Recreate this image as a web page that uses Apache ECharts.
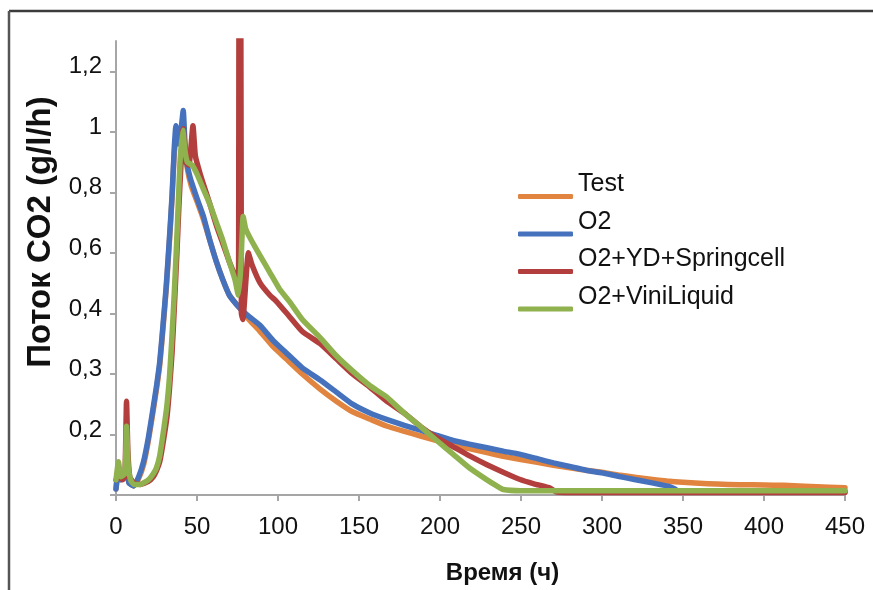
<!DOCTYPE html>
<html>
<head>
<meta charset="utf-8">
<script src="https://cdn.jsdelivr.net/npm/echarts@6/dist/echarts.min.js"></script>
<style>html,body{margin:0;padding:0;background:#fff}#c{width:873px;height:590px}</style>
</head>
<body>
<div id="c"></div>
<script>
// y values are in axis position units (one tick = 0.2); the printed tick labels are below
const yTickLabels = ['', '0,2', '0,3', '0,4', '0,6', '0,8', '1', '1,2'];
const seriesNames = ['Test', 'O2', 'O2+YD+Springcell', 'O2+ViniLiquid'];

const testData = [[0,0.02],[1.5,0.08],[3,0.05],[5,0.06],[6.5,0.08],[8,0.04],[11,0.03],[14,0.055],[17,0.1],[20,0.18],[23,0.28],[25,0.35],[27,0.43],[29,0.55],[31,0.68],[33,0.84],[34.6,0.98],[36,1.13],[37.5,1.18],[40,1.18],[42,1.18],[44,1.08],[46.5,1.02],[50,0.97],[54,0.91],[58,0.84],[62,0.77],[66,0.71],[70,0.66],[76,0.62],[82,0.58],[89,0.54],[97,0.49],[105,0.45],[115,0.4],[126,0.35],[136,0.31],[146,0.275],[157,0.25],[167,0.228],[178,0.21],[188,0.195],[198,0.18],[208,0.166],[218,0.153],[229,0.14],[239,0.128],[249,0.118],[260,0.108],[270,0.098],[280,0.09],[290,0.082],[300,0.075],[310,0.066],[320,0.059],[330,0.052],[340,0.046],[350,0.042],[360,0.039],[371,0.036],[385,0.034],[400,0.033],[412,0.032],[425,0.029],[440,0.026],[450,0.024]];

const o2Data = [[0,0.02],[1.5,0.09],[3,0.05],[5,0.06],[6.5,0.09],[8,0.04],[11,0.03],[14,0.06],[17,0.11],[20,0.19],[23,0.29],[25,0.36],[27,0.44],[29,0.56],[31,0.69],[33,0.85],[34.6,0.99],[36,1.15],[37,1.22],[38.5,1.16],[40,1.2],[41.5,1.27],[43,1.12],[45.7,1.05],[50,0.98],[54,0.92],[58,0.84],[62,0.77],[66,0.71],[70,0.66],[76,0.62],[82,0.59],[89,0.56],[97,0.51],[105,0.47],[115,0.42],[126,0.38],[136,0.34],[146,0.3],[157,0.27],[167,0.25],[178,0.23],[188,0.214],[198,0.197],[208,0.18],[218,0.168],[229,0.156],[239,0.145],[249,0.135],[260,0.12],[270,0.106],[280,0.094],[290,0.082],[300,0.073],[310,0.062],[320,0.051],[330,0.041],[340,0.03],[345,0.02],[347,0.012],[380,0.012],[420,0.012],[450,0.012]];

const springData = [[0,0.05],[2,0.07],[4,0.05],[5.5,0.06],[6.5,0.31],[7.3,0.15],[8.5,0.06],[11,0.04],[15,0.035],[20,0.045],[23,0.06],[25,0.08],[27,0.11],[29,0.17],[31.5,0.26],[33,0.35],[34.6,0.47],[36,0.62],[37.6,0.8],[38.8,0.95],[40,1.08],[41.5,1.21],[43,1.1],[45,1.09],[47.5,1.22],[49,1.12],[52,1.06],[55,1.01],[58,0.96],[62,0.89],[66,0.83],[70,0.77],[74.5,0.71],[75.6,0.69],[76,1.7],[77,1.7],[77.4,0.6],[78.3,0.58],[81.7,0.8],[84,0.76],[89,0.7],[95,0.66],[99,0.64],[107,0.59],[115,0.54],[126,0.5],[136,0.45],[146,0.4],[157,0.355],[167,0.31],[178,0.27],[188,0.226],[198,0.19],[208,0.16],[218,0.13],[229,0.1],[239,0.075],[249,0.052],[258,0.037],[268,0.023],[272,0.01],[300,0.008],[350,0.008],[400,0.008],[450,0.008]];

const viniData = [[0,0.05],[1.5,0.11],[3,0.06],[5.5,0.07],[6.5,0.227],[7.5,0.1],[9,0.05],[11,0.035],[15,0.035],[20,0.05],[23,0.07],[25,0.09],[27,0.13],[29,0.2],[31.3,0.29],[33,0.39],[34.4,0.51],[36,0.67],[37.4,0.83],[38.5,0.97],[39.5,1.1],[41.2,1.205],[42.5,1.14],[44,1.1],[47,1.09],[50,1.06],[54,1.01],[58,0.96],[62,0.9],[66,0.84],[70,0.77],[73.5,0.71],[75.5,0.66],[77,0.75],[78.5,0.92],[80,0.88],[82.7,0.85],[89,0.79],[95,0.735],[101,0.68],[107,0.64],[115,0.58],[126,0.52],[136,0.46],[146,0.41],[157,0.36],[167,0.324],[178,0.27],[188,0.226],[198,0.18],[208,0.135],[218,0.09],[229,0.05],[235,0.03],[239,0.018],[250,0.014],[300,0.014],[350,0.014],[400,0.014],[450,0.014]];

const seriesColors = ['#e0843f', '#4672bd', '#b23f3d', '#8fb24f'];
const allData = [testData, o2Data, springData, viniData];

const chart = echarts.init(document.getElementById('c'));
const FONT = '"Liberation Sans", Arial, sans-serif';
chart.setOption({
  animation: false,
  backgroundColor: '#ffffff',
  textStyle: { fontFamily: FONT },
  graphic: [
    { type: 'line', shape: { x1: 9, y1: 11, x2: 873, y2: 11 }, style: { stroke: '#3c3c3c', lineWidth: 2.5 } },
    { type: 'line', shape: { x1: 9, y1: 11, x2: 9, y2: 590 }, style: { stroke: '#555555', lineWidth: 2.5 } }
  ],
  grid: { left: 116, right: 28, top: 41, bottom: 87, containLabel: false },
  legend: {
    orient: 'vertical',
    left: 518,
    top: 172,
    padding: 0,
    itemWidth: 55,
    itemHeight: 5,
    itemGap: -3,
    icon: 'roundRect',
    formatter: function (name) { return '{a|' + name + '}\n{b| }'; },
    textStyle: {
      fontFamily: FONT, color: '#111',
      rich: {
        a: { fontSize: 25, lineHeight: 28, color: '#111', fontFamily: FONT },
        b: { fontSize: 4, lineHeight: 24 }
      }
    },
    data: seriesNames
  },
  xAxis: {
    type: 'value', min: 0, max: 450, interval: 50,
    name: 'Время (ч)', nameLocation: 'middle', nameGap: 66,
    nameTextStyle: { fontSize: 24, fontWeight: 'bold', color: '#111', padding: [0, 0, 0, 44] },
    axisLine: { lineStyle: { color: '#a6a6a6', width: 2 } },
    axisTick: { show: true, length: 6, lineStyle: { color: '#a6a6a6', width: 2 } },
    axisLabel: { fontSize: 24, color: '#111', margin: 20 },
    splitLine: { show: false }
  },
  yAxis: {
    type: 'value', min: 0, max: 1.5, interval: 0.2,
    name: 'Поток CO2 (g/l/h)', nameLocation: 'middle', nameGap: 57, nameRotate: 90,
    nameTextStyle: { fontSize: 33, fontWeight: 'bold', color: '#111', padding: [0, 0, 0, 72] },
    axisLine: { show: true, lineStyle: { color: '#a6a6a6', width: 2 } },
    axisTick: { show: true, length: 6, lineStyle: { color: '#a6a6a6', width: 2 } },
    axisLabel: {
      fontSize: 24, color: '#111', margin: 14, showMaxLabel: false,
      verticalAlign: 'bottom', lineHeight: 9,
      formatter: function (v) { const i = Math.round(v / 0.2); return Math.abs(v - i * 0.2) < 1e-6 ? (yTickLabels[i] || '') : ''; }
    },
    splitLine: { show: false }
  },
  series: seriesNames.map(function (n, i) {
    return {
      name: n, type: 'line', data: allData[i], showSymbol: false, symbol: 'none',
      clip: true, smooth: 0.15,
      lineStyle: { color: seriesColors[i], width: 5.5, cap: 'round', join: 'round' },
      itemStyle: { color: seriesColors[i] },
      z: 2 + i
    };
  })
});
</script>
</body>
</html>
